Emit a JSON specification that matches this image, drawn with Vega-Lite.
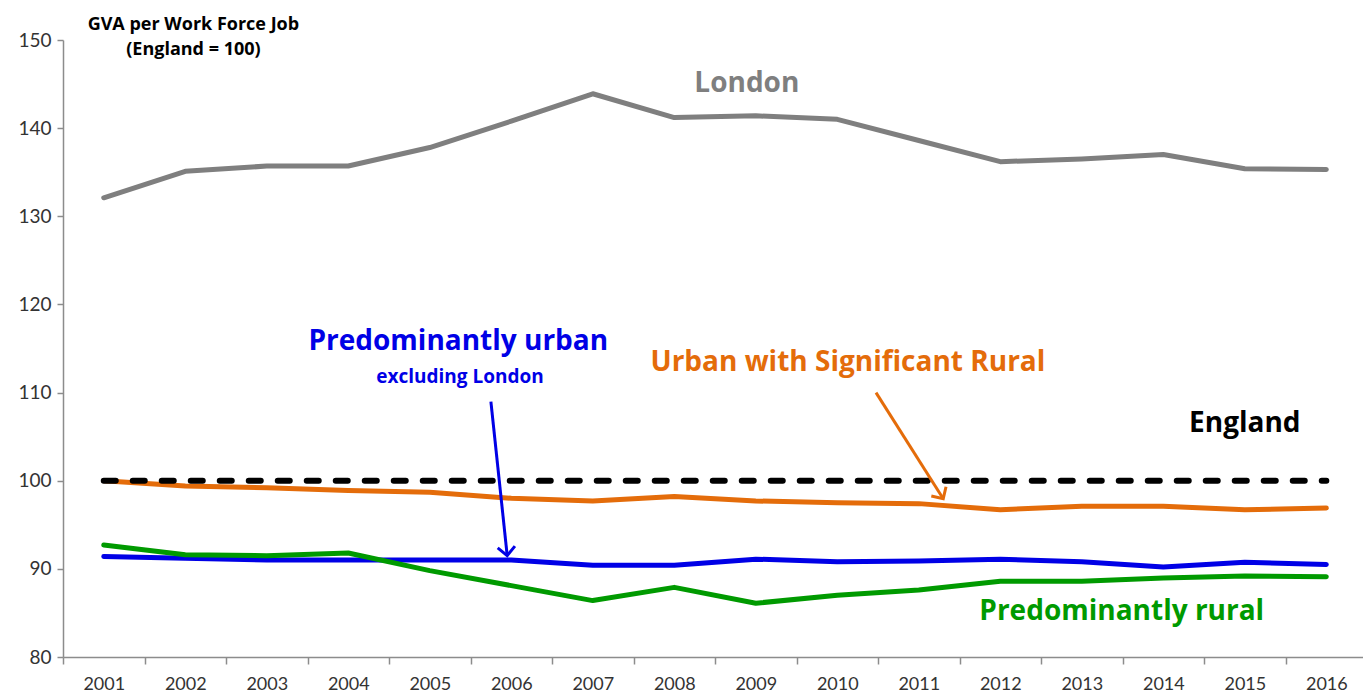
{
  "$schema": "https://vega.github.io/schema/vega-lite/v6.json",
  "width": 1300,
  "height": 617,
  "autosize": {"type": "none"},
  "padding": {"left": 63, "top": 40, "right": 0, "bottom": 36},
  "background": "white",
  "config": {
    "view": {"stroke": null},
    "axis": {"grid": false, "labelFont": "Lato", "labelColor": "#333333", "domainColor": "#8c8c8c", "tickColor": "#8c8c8c", "domainWidth": 1.5, "tickWidth": 1.5}
  },
  "datasets": {
    "series": [
      {"year": 2001, "region": "London", "value": 132.1},
      {"year": 2002, "region": "London", "value": 135.1},
      {"year": 2003, "region": "London", "value": 135.7},
      {"year": 2004, "region": "London", "value": 135.7},
      {"year": 2005, "region": "London", "value": 137.8},
      {"year": 2006, "region": "London", "value": 140.8},
      {"year": 2007, "region": "London", "value": 143.9},
      {"year": 2008, "region": "London", "value": 141.2},
      {"year": 2009, "region": "London", "value": 141.4},
      {"year": 2010, "region": "London", "value": 141.0},
      {"year": 2011, "region": "London", "value": 138.6},
      {"year": 2012, "region": "London", "value": 136.2},
      {"year": 2013, "region": "London", "value": 136.5},
      {"year": 2014, "region": "London", "value": 137.0},
      {"year": 2015, "region": "London", "value": 135.4},
      {"year": 2016, "region": "London", "value": 135.3},
      {"year": 2001, "region": "Urban with Significant Rural", "value": 100.0},
      {"year": 2002, "region": "Urban with Significant Rural", "value": 99.4},
      {"year": 2003, "region": "Urban with Significant Rural", "value": 99.2},
      {"year": 2004, "region": "Urban with Significant Rural", "value": 98.9},
      {"year": 2005, "region": "Urban with Significant Rural", "value": 98.7},
      {"year": 2006, "region": "Urban with Significant Rural", "value": 98.0},
      {"year": 2007, "region": "Urban with Significant Rural", "value": 97.7},
      {"year": 2008, "region": "Urban with Significant Rural", "value": 98.2},
      {"year": 2009, "region": "Urban with Significant Rural", "value": 97.7},
      {"year": 2010, "region": "Urban with Significant Rural", "value": 97.5},
      {"year": 2011, "region": "Urban with Significant Rural", "value": 97.4},
      {"year": 2012, "region": "Urban with Significant Rural", "value": 96.7},
      {"year": 2013, "region": "Urban with Significant Rural", "value": 97.1},
      {"year": 2014, "region": "Urban with Significant Rural", "value": 97.1},
      {"year": 2015, "region": "Urban with Significant Rural", "value": 96.7},
      {"year": 2016, "region": "Urban with Significant Rural", "value": 96.9},
      {"year": 2001, "region": "Predominantly urban", "value": 91.4},
      {"year": 2002, "region": "Predominantly urban", "value": 91.2},
      {"year": 2003, "region": "Predominantly urban", "value": 91.0},
      {"year": 2004, "region": "Predominantly urban", "value": 91.0},
      {"year": 2005, "region": "Predominantly urban", "value": 91.0},
      {"year": 2006, "region": "Predominantly urban", "value": 91.0},
      {"year": 2007, "region": "Predominantly urban", "value": 90.4},
      {"year": 2008, "region": "Predominantly urban", "value": 90.4},
      {"year": 2009, "region": "Predominantly urban", "value": 91.1},
      {"year": 2010, "region": "Predominantly urban", "value": 90.8},
      {"year": 2011, "region": "Predominantly urban", "value": 90.9},
      {"year": 2012, "region": "Predominantly urban", "value": 91.1},
      {"year": 2013, "region": "Predominantly urban", "value": 90.8},
      {"year": 2014, "region": "Predominantly urban", "value": 90.2},
      {"year": 2015, "region": "Predominantly urban", "value": 90.75},
      {"year": 2016, "region": "Predominantly urban", "value": 90.5},
      {"year": 2001, "region": "Predominantly rural", "value": 92.7},
      {"year": 2002, "region": "Predominantly rural", "value": 91.6},
      {"year": 2003, "region": "Predominantly rural", "value": 91.5},
      {"year": 2004, "region": "Predominantly rural", "value": 91.8},
      {"year": 2005, "region": "Predominantly rural", "value": 89.8},
      {"year": 2006, "region": "Predominantly rural", "value": 88.1},
      {"year": 2007, "region": "Predominantly rural", "value": 86.4},
      {"year": 2008, "region": "Predominantly rural", "value": 87.9},
      {"year": 2009, "region": "Predominantly rural", "value": 86.1},
      {"year": 2010, "region": "Predominantly rural", "value": 87.0},
      {"year": 2011, "region": "Predominantly rural", "value": 87.6},
      {"year": 2012, "region": "Predominantly rural", "value": 88.6},
      {"year": 2013, "region": "Predominantly rural", "value": 88.6},
      {"year": 2014, "region": "Predominantly rural", "value": 88.95},
      {"year": 2015, "region": "Predominantly rural", "value": 89.2},
      {"year": 2016, "region": "Predominantly rural", "value": 89.1},
      {"year": 2001, "region": "England", "value": 100},
      {"year": 2002, "region": "England", "value": 100},
      {"year": 2003, "region": "England", "value": 100},
      {"year": 2004, "region": "England", "value": 100},
      {"year": 2005, "region": "England", "value": 100},
      {"year": 2006, "region": "England", "value": 100},
      {"year": 2007, "region": "England", "value": 100},
      {"year": 2008, "region": "England", "value": 100},
      {"year": 2009, "region": "England", "value": 100},
      {"year": 2010, "region": "England", "value": 100},
      {"year": 2011, "region": "England", "value": 100},
      {"year": 2012, "region": "England", "value": 100},
      {"year": 2013, "region": "England", "value": 100},
      {"year": 2014, "region": "England", "value": 100},
      {"year": 2015, "region": "England", "value": 100},
      {"year": 2016, "region": "England", "value": 100}
    ],
    "labels": [
      {"text": "London", "region": "London", "x": 2008.89, "y": 145.06},
      {"text": "Predominantly urban", "region": "Predominantly urban", "x": 2005.35, "y": 115.78},
      {"text": "Urban with Significant Rural", "region": "Urban with Significant Rural", "x": 2010.13, "y": 113.39},
      {"text": "England", "region": "England", "x": 2015.0, "y": 106.47},
      {"text": "Predominantly rural", "region": "Predominantly rural", "x": 2013.49, "y": 85.13}
    ],
    "sublabels": [
      {"text": "excluding London", "region": "Predominantly urban", "x": 2005.37, "y": 111.8}
    ],
    "titles": [
      {"text": "GVA per Work Force Job", "x": 2002.1, "y": 151.7},
      {"text": "(England = 100)", "x": 2002.1, "y": 148.86}
    ],
    "arrows": [
      {"region": "Predominantly urban", "x": 2005.75, "y": 108.97, "x2": 2005.95, "y2": 91.5},
      {"region": "Urban with Significant Rural", "x": 2010.475, "y": 109.99, "x2": 2011.3, "y2": 97.96}
    ]
  },
  "layer": [
    {
      "data": {"name": "series"},
      "transform": [{"filter": "datum.region !== 'England'"}],
      "mark": {"type": "line", "strokeWidth": 5, "strokeJoin": "round", "strokeCap": "round"},
      "encoding": {
        "x": {"field": "year", "type": "quantitative", "title": null,
          "scale": {"domain": [2000.5, 2016.45], "nice": false, "zero": false},
          "axis": {"values": [2001,2002,2003,2004,2005,2006,2007,2008,2009,2010,2011,2012,2013,2014,2015,2016], "format": "d", "tickOffset": -40.75, "labelOffset": 40.75, "tickSize": 7, "labelPadding": 11, "labelFontSize": 18}},
        "y": {"field": "value", "type": "quantitative", "title": null,
          "scale": {"domain": [80, 150], "nice": false, "zero": false},
          "axis": {"values": [80,90,100,110,120,130,140,150], "tickSize": 6, "labelPadding": 6, "labelFontSize": 19}},
        "color": {"field": "region", "type": "nominal", "legend": null,
          "scale": {"domain": ["London", "England", "Urban with Significant Rural", "Predominantly urban", "Predominantly rural"], "range": ["#7f7f7f", "#000000", "#e46c0a", "#0000e6", "#009a00"]}},
        "detail": {"field": "region"}
      }
    },
    {
      "data": {"name": "series"},
      "transform": [{"filter": "datum.region === 'England'"}],
      "mark": {"type": "line", "strokeWidth": 6, "strokeCap": "round", "strokeDash": [12, 17], "color": "#000000"},
      "encoding": {
        "x": {"field": "year", "type": "quantitative", "title": null},
        "y": {"field": "value", "type": "quantitative", "title": null}
      }
    },
    {
      "data": {"name": "arrows"},
      "mark": {"type": "rule", "strokeWidth": 3},
      "encoding": {
        "x": {"field": "x", "type": "quantitative", "title": null},
        "y": {"field": "y", "type": "quantitative", "title": null},
        "x2": {"field": "x2"},
        "y2": {"field": "y2"},
        "color": {"field": "region", "type": "nominal", "legend": null}
      }
    },
    {
      "data": {"name": "arrows"},
      "transform": [{"filter": "datum.region === 'Predominantly urban'"}],
      "mark": {"type": "point", "shape": "M-1,-1L0,0L1,-1", "filled": false, "strokeWidth": 3, "size": 300, "angle": -6, "opacity": 1},
      "encoding": {
        "x": {"field": "x2", "type": "quantitative", "title": null},
        "y": {"field": "y2", "type": "quantitative", "title": null},
        "color": {"field": "region", "type": "nominal", "legend": null}
      }
    },
    {
      "data": {"name": "arrows"},
      "transform": [{"filter": "datum.region === 'Urban with Significant Rural'"}],
      "mark": {"type": "point", "shape": "M-1,-1L0,0L1,-1", "filled": false, "strokeWidth": 3, "size": 300, "angle": -32, "opacity": 1},
      "encoding": {
        "x": {"field": "x2", "type": "quantitative", "title": null},
        "y": {"field": "y2", "type": "quantitative", "title": null},
        "color": {"field": "region", "type": "nominal", "legend": null}
      }
    },
    {
      "data": {"name": "labels"},
      "mark": {"type": "text", "font": "Open Sans", "fontWeight": "bold", "fontSize": 28, "align": "center", "baseline": "middle"},
      "encoding": {
        "x": {"field": "x", "type": "quantitative", "title": null},
        "y": {"field": "y", "type": "quantitative", "title": null},
        "text": {"field": "text"},
        "color": {"field": "region", "type": "nominal", "legend": null}
      }
    },
    {
      "data": {"name": "sublabels"},
      "mark": {"type": "text", "font": "Open Sans", "fontWeight": "bold", "fontSize": 19, "align": "center", "baseline": "middle"},
      "encoding": {
        "x": {"field": "x", "type": "quantitative", "title": null},
        "y": {"field": "y", "type": "quantitative", "title": null},
        "text": {"field": "text"},
        "color": {"field": "region", "type": "nominal", "legend": null}
      }
    },
    {
      "data": {"name": "titles"},
      "mark": {"type": "text", "font": "Open Sans", "fontWeight": "bold", "fontSize": 18, "align": "center", "baseline": "middle", "color": "#000000"},
      "encoding": {
        "x": {"field": "x", "type": "quantitative", "title": null},
        "y": {"field": "y", "type": "quantitative", "title": null},
        "text": {"field": "text"}
      }
    }
  ]
}
